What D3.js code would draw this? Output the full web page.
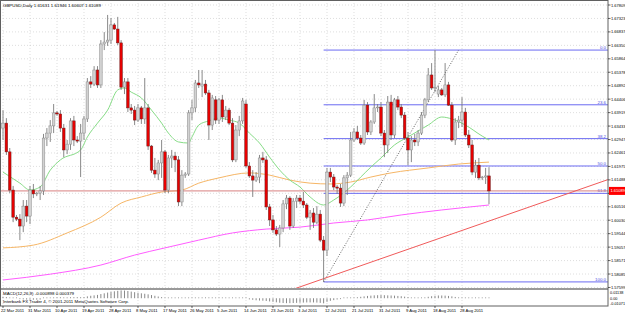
<!DOCTYPE html>
<html>
<head>
<meta charset="utf-8">
<script src="https://cdn.jsdelivr.net/npm/d3@7"></script>
<style>
  html, body { margin: 0; padding: 0; background: #fff; }
  svg { display: block; font-family: "Liberation Sans", Arial, sans-serif; }
</style>
</head>
<body>
<svg id="chart" width="625" height="313"></svg>
<script>
// ---- data ----
const symbolTitle = "GBPUSD,Daily";
const startDate = "2011-03-22"; // first bar, broker has Sunday bars
// [open, high, low, close]
const ohlc = [
  [1.6336,1.6401,1.6293,1.6354],[1.6354,1.6372,1.6239,1.6250],[1.6250,1.6264,1.6101,1.6112],
  [1.6112,1.6127,1.5996,1.6014],[1.6014,1.6022,1.6000,1.6007],[1.6007,1.6025,1.5931,1.5982],
  [1.5982,1.6076,1.5960,1.6054],[1.6054,1.6076,1.5996,1.6018],[1.6018,1.6127,1.5989,1.6112],
  [1.6112,1.6134,1.6083,1.6098],[1.6098,1.6105,1.6090,1.6101],[1.6101,1.6127,1.6076,1.6109],
  [1.6109,1.6315,1.6094,1.6300],[1.6300,1.6336,1.6271,1.6318],[1.6318,1.6365,1.6286,1.6344],
  [1.6344,1.6423,1.6318,1.6391],[1.6391,1.6398,1.6380,1.6387],[1.6387,1.6401,1.6322,1.6336],
  [1.6336,1.6351,1.6231,1.6257],[1.6257,1.6293,1.6242,1.6278],[1.6278,1.6372,1.6257,1.6362],
  [1.6362,1.6380,1.6271,1.6293],[1.6293,1.6307,1.6282,1.6289],[1.6289,1.6351,1.6159,1.6318],
  [1.6318,1.6380,1.6293,1.6369],[1.6369,1.6517,1.6358,1.6503],[1.6503,1.6524,1.6481,1.6495],
  [1.6495,1.6560,1.6488,1.6546],[1.6546,1.6560,1.6481,1.6492],[1.6492,1.6654,1.6481,1.6640],
  [1.6640,1.6683,1.6618,1.6647],[1.6647,1.6745,1.6633,1.6654],[1.6654,1.6734,1.6640,1.6709],
  [1.6709,1.6716,1.6691,1.6694],[1.6694,1.6738,1.6636,1.6644],[1.6644,1.6654,1.6474,1.6484],
  [1.6484,1.6517,1.6459,1.6503],[1.6503,1.6517,1.6394,1.6409],[1.6409,1.6423,1.6387,1.6401],
  [1.6401,1.6416,1.6347,1.6365],[1.6365,1.6423,1.6358,1.6409],[1.6409,1.6416,1.6351,1.6369],
  [1.6369,1.6517,1.6351,1.6409],[1.6409,1.6423,1.6257,1.6271],[1.6271,1.6275,1.6174,1.6184],
  [1.6184,1.6228,1.6156,1.6170],[1.6170,1.6221,1.6148,1.6210],[1.6210,1.6293,1.6156,1.6250],
  [1.6250,1.6257,1.6101,1.6112],[1.6112,1.6239,1.6101,1.6228],[1.6228,1.6257,1.6192,1.6235],
  [1.6235,1.6250,1.6177,1.6221],[1.6221,1.6235,1.6054,1.6069],[1.6069,1.6184,1.6054,1.6166],
  [1.6166,1.6177,1.6156,1.6170],[1.6170,1.6401,1.6163,1.6391],[1.6391,1.6438,1.6365,1.6409],
  [1.6409,1.6510,1.6394,1.6499],[1.6499,1.6546,1.6481,1.6492],[1.6488,1.6546,1.6448,1.6495],
  [1.6495,1.6510,1.6456,1.6463],[1.6463,1.6474,1.6293,1.6347],[1.6347,1.6456,1.6329,1.6445],
  [1.6438,1.6452,1.6351,1.6365],[1.6365,1.6445,1.6351,1.6438],[1.6438,1.6456,1.6358,1.6376],
  [1.6376,1.6416,1.6365,1.6401],[1.6401,1.6409,1.6347,1.6354],[1.6354,1.6372,1.6213,1.6221],
  [1.6221,1.6347,1.6213,1.6329],[1.6329,1.6380,1.6307,1.6362],[1.6362,1.6445,1.6351,1.6434],
  [1.6423,1.6438,1.6192,1.6199],[1.6199,1.6213,1.6156,1.6163],[1.6163,1.6184,1.6087,1.6148],
  [1.6148,1.6177,1.6141,1.6159],[1.6159,1.6239,1.6137,1.6228],[1.6228,1.6250,1.6210,1.6221],
  [1.6221,1.6235,1.6040,1.6051],[1.6051,1.6062,1.5982,1.6004],[1.6004,1.6022,1.5957,1.5968],
  [1.5968,1.5982,1.5946,1.5953],[1.5953,1.5986,1.5906,1.5975],[1.5975,1.6076,1.5960,1.6062],
  [1.6062,1.6094,1.6043,1.6083],[1.6083,1.6090,1.5968,1.5982],[1.5982,1.6083,1.5975,1.6072],
  [1.6072,1.6094,1.6047,1.6083],[1.6083,1.6094,1.6062,1.6072],[1.6072,1.6105,1.6047,1.6058],
  [1.6058,1.6065,1.6007,1.6014],[1.6014,1.6040,1.5968,1.6029],[1.6029,1.6047,1.5975,1.5996],
  [1.5996,1.6054,1.5989,1.6025],[1.6025,1.6040,1.5924,1.5931],[1.5931,1.5946,1.5780,1.5895],
  [1.5895,1.6192,1.5874,1.6177],[1.6177,1.6192,1.6141,1.6159],[1.6159,1.6170,1.6112,1.6123],
  [1.6123,1.6130,1.6098,1.6119],[1.6119,1.6134,1.6051,1.6065],[1.6065,1.6166,1.6054,1.6156],
  [1.6156,1.6177,1.6094,1.6166],[1.6166,1.6322,1.6159,1.6293],[1.6293,1.6336,1.6286,1.6322],
  [1.6322,1.6344,1.6293,1.6300],[1.6300,1.6311,1.6275,1.6282],[1.6282,1.6438,1.6275,1.6419],
  [1.6419,1.6430,1.6311,1.6322],[1.6322,1.6365,1.6311,1.6358],[1.6358,1.6459,1.6351,1.6409],
  [1.6409,1.6423,1.6394,1.6412],[1.6412,1.6430,1.6307,1.6318],[1.6318,1.6329,1.6231,1.6275],
  [1.6275,1.6452,1.6246,1.6430],[1.6430,1.6456,1.6293,1.6311],[1.6311,1.6445,1.6300,1.6438],
  [1.6438,1.6452,1.6401,1.6412],[1.6412,1.6423,1.6372,1.6383],[1.6383,1.6394,1.6293,1.6300],
  [1.6300,1.6322,1.6202,1.6257],[1.6257,1.6307,1.6213,1.6293],[1.6293,1.6315,1.6271,1.6286],
  [1.6286,1.6329,1.6271,1.6318],[1.6318,1.6394,1.6311,1.6383],[1.6383,1.6445,1.6372,1.6438],
  [1.6438,1.6553,1.6430,1.6528],[1.6528,1.6571,1.6474,1.6481],[1.6481,1.6618,1.6466,1.6484],
  [1.6459,1.6488,1.6448,1.6474],[1.6474,1.6481,1.6452,1.6456],[1.6456,1.6571,1.6448,1.6492],
  [1.6492,1.6503,1.6416,1.6419],[1.6419,1.6430,1.6286,1.6293],[1.6293,1.6372,1.6275,1.6358],
  [1.6358,1.6380,1.6336,1.6365],[1.6365,1.6448,1.6340,1.6394],[1.6394,1.6409,1.6304,1.6311],
  [1.6311,1.6329,1.6264,1.6275],[1.6275,1.6293,1.6166,1.6177],[1.6177,1.6221,1.6156,1.6202],
  [1.6202,1.6228,1.6148,1.6156],[1.6156,1.6163,1.6148,1.6159],[1.6159,1.6192,1.6134,1.6163],
  [1.61631,1.61946,1.60607,1.61089]
];

// moving averages, sampled as [bar index, price]
const maGreen = [[0,1.6177],[5,1.6137],[8,1.6112],[11,1.6123],[14,1.6184],[17,1.6221],[23,1.6257],
  [25,1.6304],[28,1.6354],[31,1.6401],[34,1.6474],[36,1.6481],[38,1.6466],[41,1.6445],[44,1.6401],
  [47,1.6354],[49,1.6318],[52,1.6286],[55,1.6282],[56,1.6304],[58,1.6347],[61,1.6362],[64,1.6372],
  [67,1.6365],[70,1.6354],[73,1.6318],[76,1.6282],[79,1.6231],[82,1.6184],[85,1.6148],[88,1.6123],
  [91,1.6087],[95,1.6058],[98,1.6076],[103,1.6123],[106,1.6159],[109,1.6195],[112,1.6228],
  [116,1.6275],[120,1.6304],[126,1.6347],[130,1.6376],[133,1.6369],[137,1.6347],[142,1.6307],[144,1.6293]];
const maOrange = [[0,1.5903],[9,1.5913],[19,1.5957],[29,1.6014],[35,1.6065],[41,1.6087],[47,1.6105],
  [53,1.6112],[58,1.6137],[64,1.6156],[73,1.6174],[79,1.6166],[85,1.6148],[91,1.6137],[97,1.6134],
  [103,1.6141],[109,1.6159],[115,1.6174],[126,1.6192],[135,1.6206],[144,1.6213]];
const maViolet = [[0,1.5787],[14,1.5808],[29,1.5841],[39,1.5877],[48,1.5903],[58,1.5931],[68,1.5957],
  [78,1.5971],[88,1.5978],[98,1.5993],[108,1.6004],[118,1.6022],[130,1.6040],[144,1.6058]];

// MACD main line, one value per bar
const macd = [
  0.0020,0.0016,0.0008,-0.0002,-0.0006,-0.0012,-0.0016,-0.0018,-0.0020,-0.0020,-0.0020,
  -0.0018,-0.0008,0.0000,0.0008,0.0012,0.0013,0.0014,0.0012,0.0012,0.0014,
  0.0015,0.0015,0.0014,0.0016,0.0026,0.0034,0.0040,0.0046,
  0.0058,0.0068,0.0078,0.0088,0.0096,0.0102,0.0108,0.0106,
  0.0100,0.0092,0.0084,0.0076,0.0068,0.0062,0.0054,0.0044,0.0034,
  0.0024,0.0016,0.0008,0.0002,-0.0002,-0.0004,-0.0008,-0.0006,-0.0006,-0.0002,
  0.0004,0.0008,0.0010,0.0012,0.0012,0.0012,0.0012,0.0010,0.0008,0.0006,0.0004,0.0002,0.0000,-0.0002,-0.0004,
  -0.0006,-0.0010,-0.0016,-0.0022,-0.0028,-0.0032,-0.0034,-0.0038,-0.0044,-0.0050,-0.0056,-0.0062,-0.0066,
  -0.0068,-0.0068,-0.0066,-0.0064,-0.0062,-0.0060,-0.0058,-0.0058,-0.0058,-0.0060,-0.0064,-0.0070,
  -0.0050,-0.0036,-0.0026,-0.0018,-0.0012,-0.0008,-0.0004,0.0002,0.0008,
  0.0014,0.0020,0.0026,0.0032,0.0036,0.0040,0.0042,0.0044,0.0042,0.0040,0.0038,0.0036,0.0032,0.0028,0.0022,
  0.0016,0.0010,0.0006,0.0004,0.0006,
  0.0012,0.0020,0.0028,0.0034,0.0038,0.0038,0.0036,0.0032,0.0026,0.0018,
  0.0012,0.0008,0.0006,0.0004,0.0002,0.0000,-0.0002,-0.0004,-0.0006,-0.0009
];
const macdTitle = "MACD(12,26,9) -0.000898 0.000379";
const copyright = "Interbank FX Trader 4, \u00a9 2001-2011 MetaQuotes Software Corp.";

const priceTicks = [1.67809,1.67323,1.66837,1.66350,1.65864,1.65378,1.64892,1.64406,1.63919,1.63433,
  1.62947,1.62461,1.61975,1.61488,1.61002,1.60516,1.60030,1.59544,1.59057,1.58571,1.58085,1.57599];
const macdTicks = [0.01138, 0, -0.01071];
const macdTickText = ["0.01138", "0.00", "-0.01071"];
const dateTicks = ["22 Mar 2011","31 Mar 2011","10 Apr 2011","19 Apr 2011","28 Apr 2011","8 May 2011",
  "17 May 2011","26 May 2011","5 Jun 2011","14 Jun 2011","23 Jun 2011","3 Jul 2011","12 Jul 2011",
  "21 Jul 2011","31 Jul 2011","9 Aug 2011","18 Aug 2011","28 Aug 2011"];

// Fibonacci retracement: [bar, price] anchors (100% low, 0% high)
const fibLevels = [0, 23.6, 38.2, 50, 61.8, 100];
const fibAnchors = [[95, 1.5780], [135, 1.6618]];
// red trend line anchors
const trendAnchors = [[96, 1.5796], [144, 1.6000]];

// ---- layout ----
const plotW = 608, mainH = 288, macdTop = 290, macdBot = 306;
const svg = d3.select("#chart");

const x = d3.scaleLinear().domain([-0.889, 179.26]).range([0, plotW]);
const y = d3.scaleLinear().domain([1.5758, 1.6799]).range([mainH, 0]);
const yM = d3.scaleLinear().domain([-0.01071, 0.01138]).range([macdBot, macdTop]);

// calendar of bars (no Saturdays)
const fmtDate = d3.timeFormat("%-d %b %Y");
const dates = [];
let day = d3.timeParse("%Y-%m-%d")(startDate);
while (dates.length < ohlc.length) {
  if (day.getDay() !== 6) dates.push(fmtDate(day));
  day = d3.timeDay.offset(day, 1);
}
const dateIdx = dateTicks.map(t => dates.indexOf(t));

svg.append("defs").append("clipPath").attr("id", "mainClip")
  .append("rect").attr("x", 0).attr("y", 0).attr("width", plotW).attr("height", mainH);

// grid
const grid = svg.append("g").attr("stroke", "#c8c8c8").attr("stroke-width", 0.6)
  .attr("stroke-dasharray", "1,2");
grid.selectAll("line.h").data(priceTicks).join("line")
  .attr("x1", 0).attr("x2", plotW).attr("y1", d => y(d)).attr("y2", d => y(d));
grid.selectAll("line.v").data(dateIdx).join("line")
  .attr("x1", d => x(d)).attr("x2", d => x(d)).attr("y1", 0).attr("y2", macdBot);

const main = svg.append("g").attr("clip-path", "url(#mainClip)");

// Fibonacci levels
const fibHi = fibAnchors[1][1], fibLo = fibAnchors[0][1];
const fibX0 = x(Math.min(fibAnchors[0][0], fibAnchors[1][0]));
const fib = main.append("g");
fib.selectAll("line").data(fibLevels).join("line")
  .attr("x1", fibX0).attr("x2", plotW)
  .attr("y1", d => y(fibHi - d / 100 * (fibHi - fibLo)))
  .attr("y2", d => y(fibHi - d / 100 * (fibHi - fibLo)))
  .attr("stroke", "#6b6bf2").attr("stroke-width", 1);
fib.selectAll("text").data(fibLevels).join("text")
  .attr("x", plotW - 2).attr("y", d => y(fibHi - d / 100 * (fibHi - fibLo)) - 1)
  .attr("text-anchor", "end").attr("font-size", 4.4).attr("fill", "#5050e0")
  .text(d => d3.format(".1f")(d));
main.append("line")
  .attr("x1", x(fibAnchors[0][0])).attr("y1", y(fibAnchors[0][1]))
  .attr("x2", x(fibAnchors[1][0])).attr("y2", y(fibAnchors[1][1]))
  .attr("stroke", "#222").attr("stroke-width", 0.7).attr("stroke-dasharray", "1,1.6");

// moving averages
const maLine = d3.line().x(d => x(d[0])).y(d => y(d[1])).curve(d3.curveMonotoneX);
[[maViolet, "#ff5cff"], [maOrange, "#f6b666"], [maGreen, "#86dc86"]].forEach(([ma, col]) => {
  main.append("path").datum(ma).attr("d", maLine)
    .attr("fill", "none").attr("stroke", col).attr("stroke-width", 1);
});

// bid line
const lastClose = ohlc[ohlc.length - 1][3];
main.append("line").attr("x1", 0).attr("x2", plotW)
  .attr("y1", y(lastClose)).attr("y2", y(lastClose))
  .attr("stroke", "#d88080").attr("stroke-width", 1);

// trend line extended over the whole plot
const tSlope = (trendAnchors[1][1] - trendAnchors[0][1]) / (trendAnchors[1][0] - trendAnchors[0][0]);
const tAt = i => trendAnchors[0][1] + tSlope * (i - trendAnchors[0][0]);
const [d0, d1] = x.domain();
main.append("line")
  .attr("x1", x(d0)).attr("y1", y(tAt(d0))).attr("x2", x(d1)).attr("y2", y(tAt(d1)))
  .attr("stroke", "#f05a5a").attr("stroke-width", 1);

// candles
const candles = main.append("g").selectAll("g").data(ohlc).join("g");
candles.append("line")
  .attr("x1", (d, i) => x(i)).attr("x2", (d, i) => x(i))
  .attr("y1", d => y(d[1])).attr("y2", d => y(d[2]))
  .attr("stroke", "#7c7c7c").attr("stroke-width", 0.9);
candles.append("rect")
  .attr("x", (d, i) => x(i) - 1.3).attr("width", 2.6)
  .attr("y", d => y(Math.max(d[0], d[3])))
  .attr("height", d => Math.max(0.8, Math.abs(y(d[0]) - y(d[3]))))
  .attr("fill", d => d[3] >= d[0] ? "#d2d2d2" : "#e80000")
  .attr("stroke", d => d[3] >= d[0] ? "#8a8a8a" : "#6a2020")
  .attr("stroke-width", 0.5);

// separator between windows
svg.append("rect").attr("x", 0).attr("y", mainH).attr("width", plotW).attr("height", 2).attr("fill", "#9a9a9a");

// MACD histogram
svg.append("g").selectAll("line").data(macd).join("line")
  .attr("x1", (d, i) => x(i)).attr("x2", (d, i) => x(i))
  .attr("y1", yM(0))
  .attr("y2", d => Math.abs(yM(d) - yM(0)) < 0.8 ? yM(0) - 0.8 : yM(d))
  .attr("stroke", "#8a8a8a").attr("stroke-width", 1);

svg.append("text").attr("x", 3).attr("y", 295).attr("font-size", 4.4).attr("fill", "#000").text(macdTitle);
svg.append("text").attr("x", 3).attr("y", 303).attr("font-size", 4.4).attr("fill", "#000").text(copyright);

// frame and axes
svg.append("rect").attr("x", 0.5).attr("y", 0.5).attr("width", plotW - 0.5).attr("height", macdBot - 0.5)
  .attr("fill", "none").attr("stroke", "#606060").attr("stroke-width", 1);

// current price position (labels under the red box are skipped, as MT4 covers them)
const bidY = y(lastClose);
const shownTicks = priceTicks.filter(d => Math.abs(y(d) - bidY) > 5);

const pAxis = svg.append("g").attr("font-size", 4.0).attr("fill", "#000");
pAxis.selectAll("line").data(priceTicks).join("line")
  .attr("x1", plotW).attr("x2", plotW + 2.5).attr("y1", d => y(d)).attr("y2", d => y(d))
  .attr("stroke", "#000").attr("stroke-width", 0.6);
pAxis.selectAll("text").data(shownTicks).join("text")
  .attr("x", plotW + 3).attr("y", d => y(d) + 1.5).text(d => d3.format(".5f")(d));

const mAxis = svg.append("g").attr("font-size", 3.8).attr("fill", "#000");
mAxis.selectAll("text").data(macdTicks).join("text")
  .attr("x", plotW + 2).attr("y", (d, i) => [294, 299.5, 304.8][i]).text((d, i) => macdTickText[i]);

// current price label
svg.append("rect").attr("x", plotW + 1).attr("y", bidY - 4).attr("width", 16).attr("height", 8).attr("fill", "#ff0000");
svg.append("text").attr("x", plotW + 2.5).attr("y", bidY + 1.5).attr("font-size", 4.0).attr("fill", "#fff")
  .text(d3.format(".5f")(lastClose));

const tAxis = svg.append("g").attr("font-size", 4.2).attr("fill", "#000");
tAxis.selectAll("line").data(dateIdx).join("line")
  .attr("x1", d => x(d)).attr("x2", d => x(d)).attr("y1", macdBot).attr("y2", macdBot + 2)
  .attr("stroke", "#000").attr("stroke-width", 0.6);
tAxis.selectAll("text").data(dateTicks).join("text")
  .attr("x", (d, i) => x(dateIdx[i]) - 2).attr("y", 311.5).text(d => d);

// title
const last = ohlc[ohlc.length - 1];
svg.append("text").attr("x", 3).attr("y", 7).attr("font-size", 4.4).attr("fill", "#000")
  .text(symbolTitle + "  " + last.map(v => d3.format(".5f")(v)).join(" "));
</script>
</body>
</html>
